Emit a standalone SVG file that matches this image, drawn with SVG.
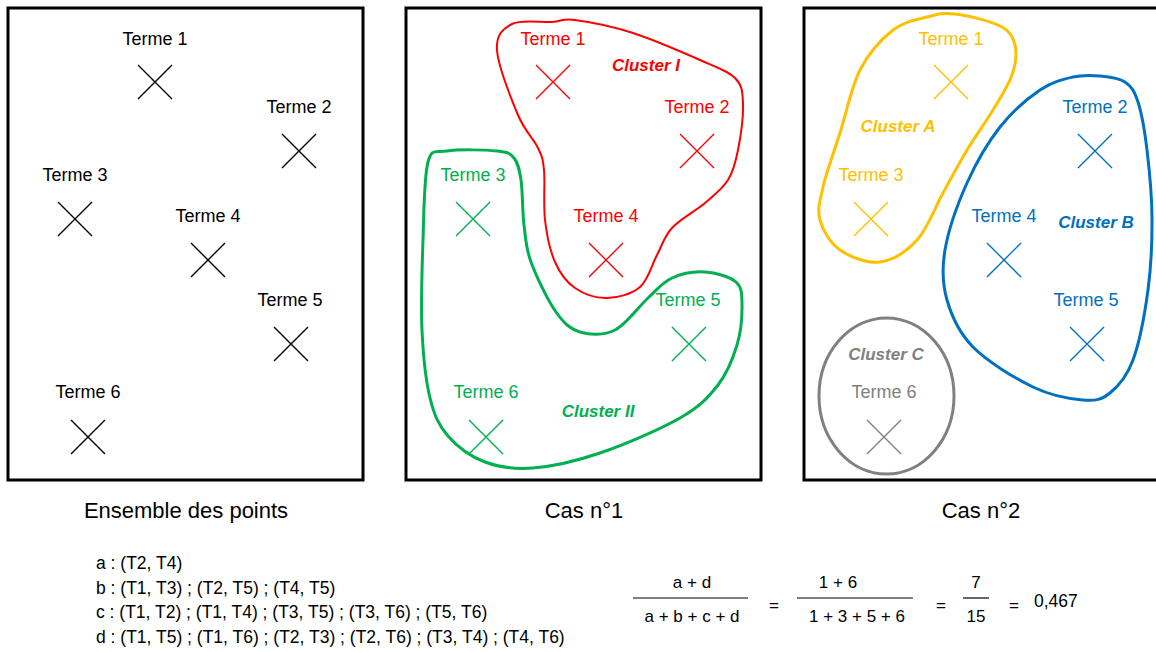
<svg xmlns="http://www.w3.org/2000/svg" xmlns:xlink="http://www.w3.org/1999/xlink" width="1156" height="652" viewBox="0 0 1156 652">
<style>
text{font-family:"Liberation Sans",Arial,sans-serif;}
.t{font-size:18px;text-anchor:middle;}
.cl{font-size:17px;font-weight:bold;font-style:italic;text-anchor:middle;}
.cap{font-size:22px;text-anchor:middle;fill:#000;}
.b{font-size:17.5px;fill:#000;}
.f{font-size:17px;fill:#000;text-anchor:middle;}
.panel{fill:#fff;stroke:#000;stroke-width:3;}
.blob{fill:none;}
.fl{stroke:#000;stroke-width:1.2;}
</style>
<defs>
<path id="x" d="M-17,-17L17,17M-17,17L17,-17" stroke-width="1.4" fill="none"/>
</defs>
<rect width="1156" height="652" fill="#fff"/>
<g id="panel1">
<rect class="panel" x="8" y="8" width="355" height="472"/>
<g id="p1-t1" stroke="#000" fill="#000"><text class="t" x="155" y="45" stroke="none">Terme 1</text><use xlink:href="#x" x="155" y="82"/></g>
<g id="p1-t2" stroke="#000" fill="#000"><text class="t" x="299" y="113" stroke="none">Terme 2</text><use xlink:href="#x" x="299" y="151"/></g>
<g id="p1-t3" stroke="#000" fill="#000"><text class="t" x="75" y="181" stroke="none">Terme 3</text><use xlink:href="#x" x="75" y="219"/></g>
<g id="p1-t4" stroke="#000" fill="#000"><text class="t" x="208" y="222" stroke="none">Terme 4</text><use xlink:href="#x" x="208" y="260"/></g>
<g id="p1-t5" stroke="#000" fill="#000"><text class="t" x="290" y="306" stroke="none">Terme 5</text><use xlink:href="#x" x="291" y="344"/></g>
<g id="p1-t6" stroke="#000" fill="#000"><text class="t" x="88" y="398" stroke="none">Terme 6</text><use xlink:href="#x" x="88" y="437"/></g>
</g>
<g id="panel2">
<rect class="panel" x="406" y="8" width="355" height="472"/>
<g id="cluster-I">
<path class="blob" stroke="#FF0000" stroke-width="2" d="M497,50 C496,34.8 502.8,28.7 512,24 C521.2,19.3 541.5,22.7 552,22 C562.5,21.3 561.5,18.2 575,20 C588.5,21.8 612.2,26.3 633,33 C653.8,39.7 683,52.5 700,60 C717,67.5 727.8,70.8 735,78 C742.2,85.2 742.5,91 743,103 C743.5,115 740.5,137.2 738,150 C735.5,162.8 733.5,171.2 728,180 C722.5,188.8 714.3,195 705,203 C695.7,211 680,219.3 672,228 C664,236.7 662.3,245.2 657,255 C651.7,264.8 648.3,279.8 640,287 C631.7,294.2 617.8,297.8 607,298 C596.2,298.2 583.7,294 575,288 C566.3,282 560,273.3 555,262 C550,250.7 546.8,235.3 545,220 C543.2,204.7 545.2,182 544,170 C542.8,158 542.3,157.2 538,148 C533.7,138.8 524.8,131.3 518,115 C511.2,98.7 498,65.2 497,50 Z"/>
<text class="cl" x="646" y="71" fill="#FF0000">Cluster I</text>
</g>
<g id="cluster-II">
<path class="blob" stroke="#00B050" stroke-width="3" d="M447,151 C458.5,149.2 485.8,149.8 497,151 C508.2,152.2 510,153.2 514,158 C518,162.8 519.3,168.8 521,180 C522.7,191.2 522.3,211.3 524,225 C525.7,238.7 525.7,247.5 531,262 C536.3,276.5 547.8,300.3 556,312 C564.2,323.7 570.2,329 580,332 C589.8,335 603.7,335.7 615,330 C626.3,324.3 638.5,306.7 648,298 C657.5,289.3 662.5,282.3 672,278 C681.5,273.7 694.3,271.3 705,272 C715.7,272.7 729.8,276.5 736,282 C742.2,287.5 741.8,294.5 742,305 C742.2,315.5 741,331.7 737,345 C733,358.3 727.5,372.8 718,385 C708.5,397.2 699.7,406.7 680,418 C660.3,429.3 624.5,444.7 600,453 C575.5,461.3 552.2,466.5 533,468 C513.8,469.5 499.2,467.3 485,462 C470.8,456.7 457.2,446.7 448,436 C438.8,425.3 434.3,415.7 430,398 C425.7,380.3 423.2,356.3 422,330 C420.8,303.7 422,268 423,240 C424,212 424,176.8 428,162 C432,147.2 435.5,152.8 447,151 Z"/>
<text class="cl" x="598" y="417" fill="#00B050">Cluster II</text>
</g>
<g id="p2-t1" stroke="#FF0000" fill="#FF0000"><text class="t" x="553" y="45" stroke="none">Terme 1</text><use xlink:href="#x" x="553" y="82"/></g>
<g id="p2-t2" stroke="#FF0000" fill="#FF0000"><text class="t" x="697" y="113" stroke="none">Terme 2</text><use xlink:href="#x" x="697" y="151"/></g>
<g id="p2-t3" stroke="#00B050" fill="#00B050"><text class="t" x="473" y="181" stroke="none">Terme 3</text><use xlink:href="#x" x="473" y="219"/></g>
<g id="p2-t4" stroke="#FF0000" fill="#FF0000"><text class="t" x="606" y="222" stroke="none">Terme 4</text><use xlink:href="#x" x="606" y="260"/></g>
<g id="p2-t5" stroke="#00B050" fill="#00B050"><text class="t" x="688" y="306" stroke="none">Terme 5</text><use xlink:href="#x" x="689" y="344"/></g>
<g id="p2-t6" stroke="#00B050" fill="#00B050"><text class="t" x="486" y="398" stroke="none">Terme 6</text><use xlink:href="#x" x="486" y="437"/></g>
</g>
<g id="panel3">
<rect class="panel" x="804" y="8" width="357" height="472"/>
<g id="cluster-A">
<path class="blob" stroke="#FFC000" stroke-width="3" d="M955,14 C967.2,15.5 990,20.8 1000,26 C1010,31.2 1013,36.8 1015,45 C1017,53.2 1015.7,64.2 1012,75 C1008.3,85.8 1000.5,97.5 993,110 C985.5,122.5 975.3,136.2 967,150 C958.7,163.8 951.3,178 943,193 C934.7,208 927.5,228.5 917,240 C906.5,251.5 892.8,260.3 880,262 C867.2,263.7 850,257 840,250 C830,243 822.8,230.5 820,220 C817.2,209.5 819.7,201.5 823,187 C826.3,172.5 833.8,152.5 840,133 C846.2,113.5 851.2,87.2 860,70 C868.8,52.8 881.8,38.8 893,30 C904.2,21.2 916.7,19.7 927,17 C937.3,14.3 942.8,12.5 955,14 Z"/>
<text class="cl" x="898" y="132" fill="#FFC000">Cluster A</text>
</g>
<g id="cluster-B">
<path class="blob" stroke="#0070C0" stroke-width="3" d="M1100,76 C1108.7,76.8 1118.7,77.7 1125,82 C1131.3,86.3 1134.3,90.7 1138,102 C1141.7,113.3 1144.7,130.8 1147,150 C1149.3,169.2 1151.8,193.7 1152,217 C1152.2,240.3 1151.2,266.2 1148,290 C1144.8,313.8 1139.3,342.8 1133,360 C1126.7,377.2 1118.3,386.3 1110,393 C1101.7,399.7 1095.8,401 1083,400 C1070.2,399 1051.3,395.8 1033,387 C1014.7,378.2 987.3,361.5 973,347 C958.7,332.5 951.7,316.2 947,300 C942.3,283.8 941.7,269.5 945,250 C948.3,230.5 957.8,203.5 967,183 C976.2,162.5 987.8,142.5 1000,127 C1012.2,111.5 1027.8,98.3 1040,90 C1052.2,81.7 1063,79.3 1073,77 C1083,74.7 1091.3,75.2 1100,76 Z"/>
<text class="cl" x="1096" y="228" fill="#0070C0">Cluster B</text>
</g>
<g id="cluster-C">
<ellipse cx="886.5" cy="396" rx="67.5" ry="78" fill="none" stroke="#808080" stroke-width="3"/>
<text class="cl" x="886" y="360" fill="#808080">Cluster C</text>
</g>
<g id="p3-t1" stroke="#FFC000" fill="#FFC000"><text class="t" x="951" y="45" stroke="none">Terme 1</text><use xlink:href="#x" x="951" y="82"/></g>
<g id="p3-t2" stroke="#0070C0" fill="#0070C0"><text class="t" x="1095" y="113" stroke="none">Terme 2</text><use xlink:href="#x" x="1095" y="151"/></g>
<g id="p3-t3" stroke="#FFC000" fill="#FFC000"><text class="t" x="871" y="181" stroke="none">Terme 3</text><use xlink:href="#x" x="871" y="219"/></g>
<g id="p3-t4" stroke="#0070C0" fill="#0070C0"><text class="t" x="1004" y="222" stroke="none">Terme 4</text><use xlink:href="#x" x="1004" y="260"/></g>
<g id="p3-t5" stroke="#0070C0" fill="#0070C0"><text class="t" x="1086" y="306" stroke="none">Terme 5</text><use xlink:href="#x" x="1087" y="344"/></g>
<g id="p3-t6" stroke="#808080" fill="#808080"><text class="t" x="884" y="398" stroke="none">Terme 6</text><use xlink:href="#x" x="884" y="437"/></g>
</g>
<g id="connectors"/>
<g id="captions">
<text class="cap" x="186" y="518">Ensemble des points</text>
<text class="cap" x="584" y="518">Cas n°1</text>
<text class="cap" x="981" y="518">Cas n°2</text>
</g>
<g id="pairs">
<text class="b" x="96" y="569">a : (T2, T4)</text>
<text class="b" x="96" y="594">b : (T1, T3) ; (T2, T5) ; (T4, T5)</text>
<text class="b" x="96" y="618">c : (T1, T2) ; (T1, T4) ; (T3, T5) ; (T3, T6) ; (T5, T6)</text>
<text class="b" x="96" y="643">d : (T1, T5) ; (T1, T6) ; (T2, T3) ; (T2, T6) ; (T3, T4) ; (T4, T6)</text>
</g>
<g id="formula">
<text class="f" x="692" y="588">a + d</text>
<line class="fl" x1="633" y1="598" x2="748" y2="598"/>
<text class="f" x="692" y="622">a + b + c + d</text>
<text class="f" x="774" y="611" font-size="14">=</text>
<text class="f" x="838" y="588">1 + 6</text>
<line class="fl" x1="797" y1="598" x2="913" y2="598"/>
<text class="f" x="857" y="622">1 + 3 + 5 + 6</text>
<text class="f" x="941" y="611" font-size="14">=</text>
<text class="f" x="976" y="588">7</text>
<line class="fl" x1="963" y1="598" x2="989" y2="598"/>
<text class="f" x="976" y="622">15</text>
<text class="f" x="1014" y="611" font-size="14">=</text>
<text class="b" x="1034" y="607" font-size="15">0,467</text>
</g>
</svg>
